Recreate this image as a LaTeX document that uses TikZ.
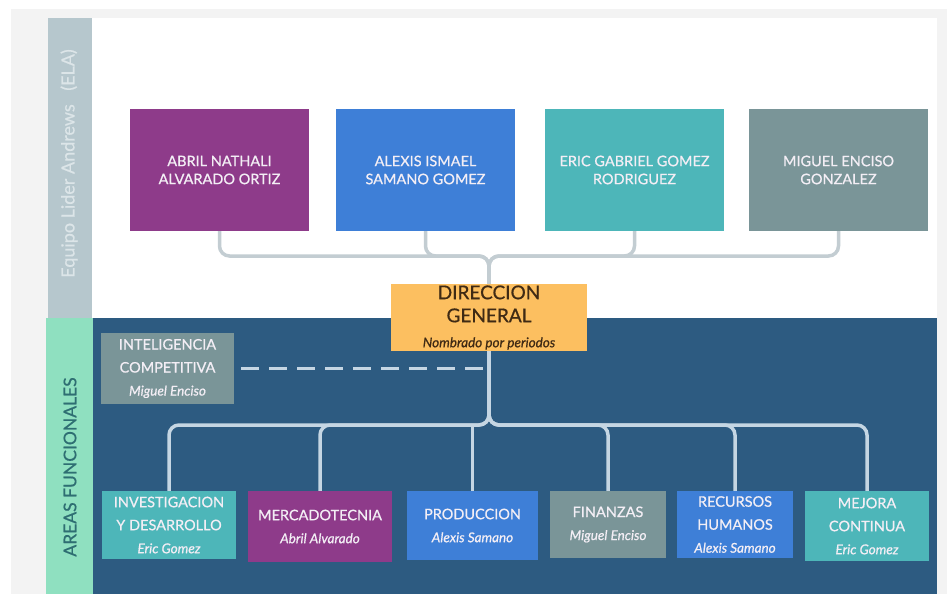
\documentclass[tikz,border=0pt]{standalone}
\usepackage{fontspec}
\setmainfont{Lato}[RawFeature={embolden=0.7}]
\definecolor{outergray}{HTML}{F3F3F3}
\definecolor{sidegray}{HTML}{B6C7CD}
\definecolor{sidetext}{HTML}{DCE5E8}
\definecolor{mint}{HTML}{8FE0C0}
\definecolor{minttext}{HTML}{2E6E72}
\definecolor{panel}{HTML}{2D5B81}
\definecolor{cpurple}{HTML}{8E3B8A}
\definecolor{cblue}{HTML}{3E7FD7}
\definecolor{cteal}{HTML}{4DB6B9}
\definecolor{cgray}{HTML}{7A9598}
\definecolor{corange}{HTML}{FCBF60}
\definecolor{dgtext}{HTML}{3F2A14}
\definecolor{boxtext}{HTML}{F3EEF5}
\definecolor{linetop}{HTML}{C3CDD2}
\definecolor{linebot}{HTML}{C5D6E3}
\tikzset{
  topbox/.style={inner sep=0pt, minimum width=179pt, minimum height=122pt, align=center,
    text=boxtext, font=\fontsize{14.5}{18}\selectfont},
  botbox/.style={inner sep=0pt, minimum height=68pt, align=center,
    text=boxtext, font=\fontsize{14.5}{23}\selectfont},
  topline/.style={draw=linetop, line width=3.5pt, rounded corners=10pt},
  botline/.style={draw=linebot, line width=3.5pt, rounded corners=10pt},
  dashline/.style={draw=linebot, line width=3.5pt, dash pattern=on 18pt off 10pt},
}
\newcommand{\nm}[1]{{\itshape\fontsize{13.5}{23}\selectfont #1}}
\begin{document}
\begin{tikzpicture}[x=1pt,y=-1pt]
\useasboundingbox (0,0) rectangle (951,594);
\fill[white] (0,0) rectangle (951,594);
% background panels
\fill[outergray] (11,9) rectangle (947,594);
\fill[sidegray] (48,18) rectangle (92,318);
\fill[white] (92,18) rectangle (937,318);
\fill[mint] (46,318) rectangle (93,594);
\fill[panel] (93,318) rectangle (937,594);
\node[rotate=90, text=sidetext, font=\fontsize{18}{18}\selectfont] (ela) at (69,163.5) {Equipo Lider Andrews\hspace{0.5em} (ELA)};
\node[rotate=90, text=minttext, font=\fontsize{17.5}{17.5}\selectfont] (areas) at (70,467) {AREAS FUNCIONALES};

% top boxes
\node[topbox, fill=cpurple] (abril) at (219.5,170) {ABRIL NATHALI\\ALVARADO ORTIZ};
\node[topbox, fill=cblue] (alexis) at (425.5,170) {ALEXIS ISMAEL\\SAMANO GOMEZ};
\node[topbox, fill=cteal] (eric) at (634.5,170) {ERIC GABRIEL GOMEZ\\RODRIGUEZ};
\node[topbox, fill=cgray] (miguel) at (838.5,170) {MIGUEL ENCISO\\GONZALEZ};

% direccion general
\node[inner sep=0pt, minimum width=196pt, minimum height=67pt, fill=corange, align=center,
  text=dgtext, font=\fontsize{19}{23}\selectfont] (dg) at (489,317.5)
  {DIRECCION\\GENERAL\\[2pt]{\itshape\fontsize{13.5}{14}\selectfont Nombrado por periodos}};

% inteligencia
\node[botbox, fill=cgray, minimum width=133pt, minimum height=71pt] (intel) at (167.5,368.5)
  {INTELIGENCIA\\COMPETITIVA\\\nm{Miguel Enciso}};

% bottom boxes
\node[botbox, fill=cteal, minimum width=134pt] (inv) at (169,525)
  {INVESTIGACION\\Y DESARROLLO\\\nm{Eric Gomez}};
\node[botbox, fill=cpurple, minimum width=144pt, minimum height=71pt] (merc) at (320,526.5)
  {MERCADOTECNIA\\\nm{Abril Alvarado}};
\node[botbox, fill=cblue, minimum width=131pt, minimum height=69pt] (prod) at (472.5,525.5)
  {PRODUCCION\\\nm{Alexis Samano}};
\node[botbox, fill=cgray, minimum width=116pt, minimum height=67pt] (fin) at (608,524.5)
  {FINANZAS\\\nm{Miguel Enciso}};
\node[botbox, fill=cblue, minimum width=116pt, minimum height=67pt] (rh) at (735,524.5)
  {RECURSOS\\HUMANOS\\\nm{Alexis Samano}};
\node[botbox, fill=cteal, minimum width=124pt, minimum height=70pt] (mej) at (867,526)
  {MEJORA\\CONTINUA\\\nm{Eric Gomez}};

% top connectors
\coordinate (tj) at (489,256);
\draw[topline] (abril.south) |- (tj) -- (dg.north);
\draw[topline] (alexis.south) |- (tj) -- (dg.north);
\draw[topline] (eric.south) |- (tj) -- (dg.north);
\draw[topline] (miguel.south) |- (tj) -- (dg.north);

% bottom connectors
\coordinate (bj) at (489,425);
\draw[botline] (dg.south) -- (bj) -| (inv.north);
\draw[botline] (dg.south) -- (bj) -| (merc.north);
\draw[botline] (dg.south) -- (bj) -| (fin.north);
\draw[botline] (dg.south) -- (bj) -| (rh.north);
\draw[botline] (dg.south) -- (bj) -| (mej.north);
\draw[botline, sharp corners] (prod.north |- bj) -- (prod.north);

% dashed link
\draw[dashline] ([xshift=7pt]intel.east) -- (intel.east -| dg.south);
\end{tikzpicture}
\end{document}
